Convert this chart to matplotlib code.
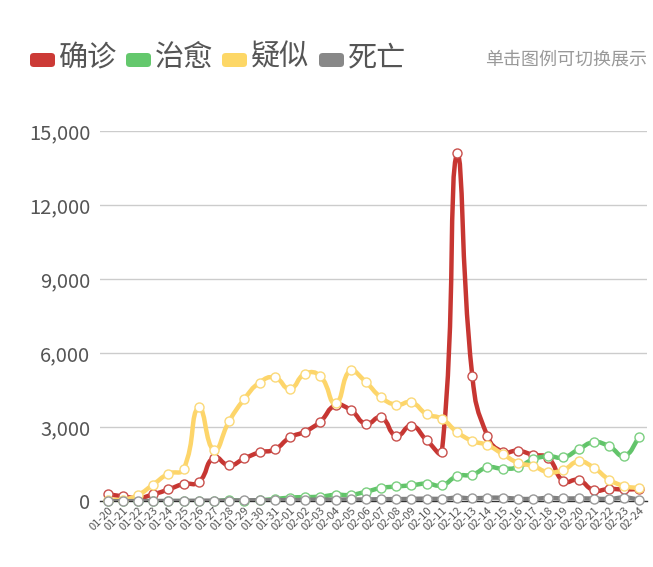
import matplotlib
matplotlib.use("Agg")
import matplotlib.pyplot as plt
from matplotlib.path import Path
from matplotlib.patches import PathPatch, FancyBboxPatch
import numpy as np

plt.rcParams['font.family'] = ['Noto Sans CJK SC', 'DejaVu Sans']

dates = ['01-%02d' % d for d in range(20, 32)] + ['02-%02d' % d for d in range(1, 25)]

confirmed = [291, 200, 131, 280, 480, 700, 780, 1771, 1459, 1737, 1982, 2102,
             2590, 2829, 3235, 3887, 3694, 3143, 3399, 2656, 3062, 2478, 2015, 14108,
             5090, 2641, 2008, 2048, 1886, 1749, 820, 860, 450, 500, 480, 500]
cured = [0, 0, 3, 6, 4, 11, 2, 9, 43, 21, 47, 90,
         150, 170, 190, 262, 261, 387, 540, 600, 650, 716, 650, 1020,
         1081, 1373, 1323, 1380, 1701, 1824, 1779, 2109, 2393, 2231, 1852, 2600]
suspected = [54, 60, 257, 680, 1118, 1309, 3806, 2077, 3248, 4148, 4812, 5019,
             4562, 5173, 5072, 3971, 5328, 4833, 4214, 3916, 4008, 3536, 3342, 2807,
             2450, 2277, 1918, 1563, 1432, 1185, 1277, 1614, 1361, 882, 620, 530]
deaths = [0, 3, 8, 8, 16, 15, 24, 26, 26, 38, 43, 46,
          45, 57, 64, 65, 73, 73, 86, 89, 97, 108, 97, 145,
          121, 143, 142, 105, 98, 136, 114, 118, 109, 97, 150, 71]

names = ['确诊', '治愈', '疑似', '死亡']
series = [confirmed, cured, suspected, deaths]
line_colors = ['#c73632', '#62c46a', '#fdd56a', '#808080']
edge_colors = ['#c9504c', '#7bcf80', '#fbd978', '#999999']
legend_colors = ['#cc3a36', '#64c86d', '#fdd766', '#888888']

W, H = 653, 567
fig = plt.figure(figsize=(W / 100, H / 100), dpi=100)
left, right, bottom, top = 100, 647, 501.3, 131.3
ax = fig.add_axes([left / W, 1 - bottom / H, (right - left) / W, (bottom - top) / H])

n = len(dates)
x = np.arange(n)
ax.set_xlim(-0.5, n - 0.5)
ax.set_ylim(0, 15000)

# pixels per unit, used for echarts-like smoothing ratios
sx = (right - left) / n
sy = (bottom - top) / 15000.0


def smooth_path(xs, ys, smooth=0.5):
    pts = np.column_stack([xs, ys]).astype(float)
    scale = np.array([sx, sy])
    ymin, ymax = pts[:, 1].min(), pts[:, 1].max()
    cps = []
    for i in range(len(pts)):
        p = pts[i]
        prev = pts[i - 1] if i > 0 else p
        nxt = pts[i + 1] if i < len(pts) - 1 else p
        v = nxt - prev
        d0 = np.hypot(*((p - prev) * scale))
        d1 = np.hypot(*((nxt - p) * scale))
        tot = d0 + d1
        r0 = d0 / tot if tot else 0
        r1 = d1 / tot if tot else 0
        c0 = p - v * smooth * r0
        c1 = p + v * smooth * r1
        c0[1] = min(max(c0[1], ymin), ymax)
        c1[1] = min(max(c1[1], ymin), ymax)
        cps.append((c0, c1))
    verts = [pts[0]]
    codes = [Path.MOVETO]
    for i in range(len(pts) - 1):
        verts += [cps[i][1], cps[i + 1][0], pts[i + 1]]
        codes += [Path.CURVE4] * 3
    return Path(verts, codes)


for k, (vals, lc, ec) in enumerate(zip(series, line_colors, edge_colors)):
    patch = PathPatch(smooth_path(x, vals), facecolor='none', edgecolor=lc,
                      lw=3.2, capstyle='round', joinstyle='round', zorder=3 + k * 2)
    ax.add_patch(patch)
    ax.plot(x, vals, 'o', ms=6.5, mfc='white', mec=ec, mew=1.0, zorder=4 + k * 2,
            clip_on=False)

ax.set_yticks([0, 3000, 6000, 9000, 12000, 15000])
ax.set_yticklabels(['0', '3,000', '6,000', '9,000', '12,000', '15,000'])
ax.grid(axis='y', color='#cccccc', lw=1)
ax.set_axisbelow(True)
for s in ['top', 'right', 'left']:
    ax.spines[s].set_visible(False)
ax.spines['bottom'].set_color('#333333')
ax.spines['bottom'].set_linewidth(1)
ax.spines['bottom'].set_zorder(2.5)
ax.tick_params(axis='y', length=0, pad=7, labelsize=14.5, labelcolor='#555555')
ax.tick_params(axis='x', length=0, pad=3, labelsize=8, labelcolor='#555555')
ax.set_xticks(x)
ax.set_xticklabels(dates, rotation=45, ha='right', va='top', rotation_mode='anchor')

# legend drawn by hand, echarts style
rect_x = [30, 126, 222, 319]
for name, col, rx in zip(names, legend_colors, rect_x):
    fig.patches.append(FancyBboxPatch(((rx) / W, 1 - 67 / H), 25 / W, 14 / H,
                                      boxstyle='round,pad=0,rounding_size=0.006',
                                      transform=fig.transFigure, fc=col, ec='none'))
    fig.text((rx + 29) / W, 1 - 58 / H, name, fontsize=21, color='#555555',
             ha='left', va='center')
fig.text(647 / W, 1 - 60 / H, '单击图例可切换展示', fontsize=13, color='#999999',
         ha='right', va='center')

fig.savefig('out.png', dpi=100)
